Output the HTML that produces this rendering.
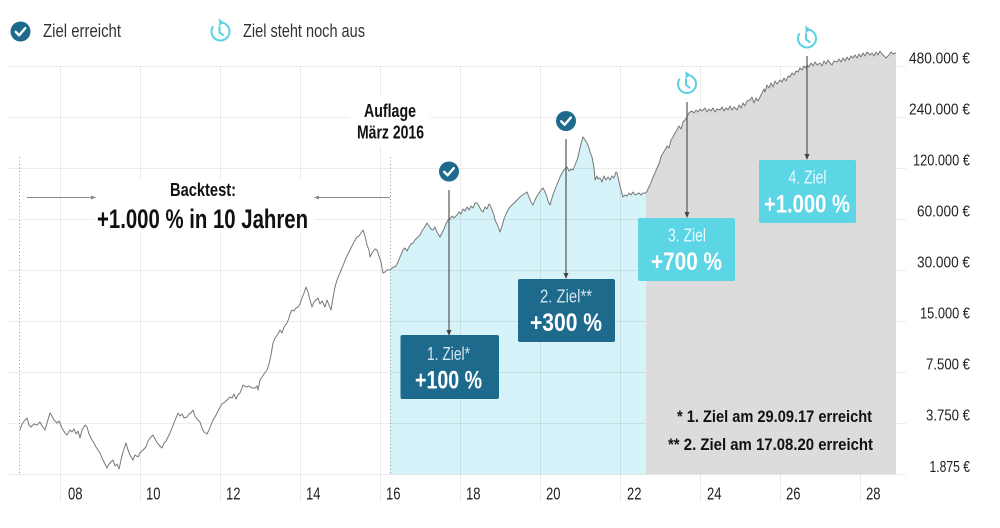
<!DOCTYPE html>
<html><head><meta charset="utf-8">
<style>
html,body{margin:0;padding:0;background:#fff;}
svg{display:block;}
text{font-family:"Liberation Sans Narrow","Liberation Sans",sans-serif;}
.b{font-weight:bold;}
</style></head>
<body>
<svg width="1000" height="528" viewBox="0 0 1000 528" xmlns="http://www.w3.org/2000/svg">
<defs>
  <g id="chk">
    <circle cx="0" cy="0" r="10" fill="#1e6a8d"/>
    <path d="M-4.8,0.3 L-1.4,3.8 L4.8,-3.4" fill="none" stroke="#fff" stroke-width="2.4" stroke-linecap="round" stroke-linejoin="round"/>
  </g>
  <g id="tmr" fill="none" stroke="#5ad2e2" stroke-width="2" stroke-linecap="round">
    <path d="M0.5,-9 A9,9 0 1 1 -7.8,-4.5"/>
    <path d="M-1.5,-12 L2.5,-9 L-1.2,-6.2" fill="#5ad2e2" stroke-width="1.2"/>
    <path d="M-1,-4.5 L-1,1 L2.5,3.5"/>
  </g>
</defs>
<rect width="1000" height="528" fill="#fff"/>

<!-- cyan fill -->
<path fill="#d5f3f8" d="M390,474.5 L390,270 392,268 394,267 396,266 398,262 400,257 403,250 405,248 407,251 409,247 411,244 413,243 415,240 417,238 420,235 422,231 424,228 427,223 429,226 431,229 433,230 435,227 437,232 440,237 442,233 444,229 446,224 448,220 450,219 452,216 454,218 457,215 459,212 461,214 463,209 465,211 467,207 469,210 471,206 473,208 475,203 477,203 479,206 481,210 483,212 485,207 487,209 489,204 490,205 492,210 494,215 495,220 497,224 499,229 500,232 502,226 504,219 506,214 508,210 510,207 512,205 515,202 517,200 519,198 521,196 524,194 527,192 529,197 531,202 533,205 535,200 537,196 539,193 541,190 543,188 545,192 547,197 548,201 550,205 552,198 554,192 556,187 558,182 560,177 562,173 564,170 567,167 569,171 571,169 573,170 575,165 577,160 578,157 580,148 582,140 583,137 585,140 587,143 589,148 590,152 592,157 594,168 595,180 597,176 598,179 600,178 602,182 604,176 606,180 608,177 610,180 612,176 614,178 616,172 617,173 619,182 621,190 623,197 625,195 627,196 629,193 631,195 633,192 635,195 637,194 639,193 641,195 643,193 645,193 646,193 L646,474.5 Z"/>

<!-- gridlines -->
<g stroke="#000" stroke-opacity="0.075" stroke-width="1">
  <line x1="8" y1="66.5" x2="906" y2="66.5"/>
  <line x1="8" y1="117.5" x2="906" y2="117.5"/>
  <line x1="8" y1="168.5" x2="906" y2="168.5"/>
  <line x1="8" y1="219.5" x2="906" y2="219.5"/>
  <line x1="8" y1="270.5" x2="906" y2="270.5"/>
  <line x1="8" y1="321.5" x2="906" y2="321.5"/>
  <line x1="8" y1="372.5" x2="906" y2="372.5"/>
  <line x1="8" y1="423.5" x2="906" y2="423.5"/>
  <line x1="8" y1="474.5" x2="906" y2="474.5"/>
  <line x1="60.5" y1="66" x2="60.5" y2="502"/>
  <line x1="140.5" y1="66" x2="140.5" y2="502"/>
  <line x1="220.5" y1="66" x2="220.5" y2="502"/>
  <line x1="300.5" y1="66" x2="300.5" y2="502"/>
  <line x1="380.5" y1="66" x2="380.5" y2="502"/>
  <line x1="460.5" y1="66" x2="460.5" y2="502"/>
  <line x1="540.5" y1="66" x2="540.5" y2="502"/>
  <line x1="620.5" y1="66" x2="620.5" y2="502"/>
  <line x1="700.5" y1="66" x2="700.5" y2="502"/>
  <line x1="780.5" y1="66" x2="780.5" y2="502"/>
  <line x1="860.5" y1="66" x2="860.5" y2="502"/>
</g>

<!-- white backgrounds behind annotation text -->
<rect x="95" y="178" width="220" height="54" fill="#fff"/>
<rect x="350" y="96" width="80" height="50" fill="#fff"/>

<!-- gray fill -->
<path fill="#dcdcdc" d="M646,474.5 L646,193 648,189 650,185 652,180 653,177 655,173 657,168 659,164 661,157 663,153 665,150 667,146 669,148 671,140 673,137 675,133 677,130 679,126 681,129 683,122 685,120 687,117 689,113 690,112 692,111 694,113 696,110 698,112 700,109 702,111 703,110 705,108 707,112 709,109 711,111 713,108 715,112 717,109 720,110 722,107 724,111 726,108 728,110 730,106 732,110 734,107 737,110 739,105 741,108 743,103 745,106 747,101 750,100 752,97 754,103 756,98 758,101 760,97 762,93 764,89 765,92 767,85 769,88 771,83 773,87 775,81 777,84 780,80 782,82 784,78 786,81 788,76 790,77 792,73 794,75 796,71 798,72 800,68 802,70 804,66 806,68 807,65 809,67 811,63 813,66 815,62 817,65 820,63 822,66 824,61 826,64 828,60 830,63 832,65 834,61 837,62 839,59 841,62 843,58 845,61 847,57 849,60 851,56 853,58 855,55 857,58 859,54 861,57 863,53 865,56 867,52 870,55 872,53 874,56 876,52 878,55 880,51 882,54 884,56 886,58 887,57 889,55 891,52 893,54 895,53 896,53 L896,474.5 Z"/>

<!-- dotted verticals -->
<g stroke="#999" stroke-width="1" stroke-dasharray="1,2.5">
  <line x1="19.5" y1="157" x2="19.5" y2="474"/>
  <line x1="390.5" y1="157" x2="390.5" y2="474"/>
</g>

<!-- price curve -->
<polyline fill="none" stroke="#777" stroke-width="1" stroke-linejoin="round" points="20,430 22,424 25,420 27,418 29,425 31,427 34,424 37,425 40,422 42,426 45,430 47,423 50,413 52,416 54,420 57,423 59,421 62,428 65,433 67,435 70,430 72,432 74,429 76,434 78,431 80,438 82,430 85,425 87,427 89,434 92,440 94,443 96,447 98,450 100,453 102,458 104,462 107,468 109,464 111,462 113,460 115,466 117,464 119,469 121,460 123,452 126,443 128,450 130,455 133,460 135,455 138,457 140,453 143,450 146,447 148,441 150,438 153,435 155,439 158,444 160,446 162,448 164,443 166,441 168,437 170,433 172,428 174,423 176,418 178,413 180,416 182,414 184,418 187,417 189,414 191,413 193,410 195,416 197,419 200,422 202,428 204,432 207,434 209,430 211,425 213,420 215,417 218,411 220,407 222,404 225,402 228,399 230,397 232,398 234,394 236,399 238,395 240,393 242,388 243,385 246,387 249,386 252,388 255,388 257,386 258,390 260,380 262,377 264,374 267,370 269,364 271,355 273,343 275,338 278,334 280,330 282,333 284,327 287,323 289,318 290,314 292,310 294,311 296,308 298,307 300,304 302,298 304,293 306,287 308,292 310,300 312,307 314,302 316,300 318,298 320,304 322,301 324,305 325,307 327,300 329,305 331,310 333,298 335,287 337,280 339,275 342,268 344,263 346,258 348,254 350,250 352,246 354,242 357,237 359,236 361,233 363,230 365,236 367,245 369,250 370,257 372,253 375,249 377,250 379,256 381,262 383,273 385,272 387,270 390,270 392,268 394,267 396,266 398,262 400,257 403,250 405,248 407,251 409,247 411,244 413,243 415,240 417,238 420,235 422,231 424,228 427,223 429,226 431,229 433,230 435,227 437,232 440,237 442,233 444,229 446,224 448,220 450,219 452,216 454,218 457,215 459,212 461,214 463,209 465,211 467,207 469,210 471,206 473,208 475,203 477,203 479,206 481,210 483,212 485,207 487,209 489,204 490,205 492,210 494,215 495,220 497,224 499,229 500,232 502,226 504,219 506,214 508,210 510,207 512,205 515,202 517,200 519,198 521,196 524,194 527,192 529,197 531,202 533,205 535,200 537,196 539,193 541,190 543,188 545,192 547,197 548,201 550,205 552,198 554,192 556,187 558,182 560,177 562,173 564,170 567,167 569,171 571,169 573,170 575,165 577,160 578,157 580,148 582,140 583,137 585,140 587,143 589,148 590,152 592,157 594,168 595,180 597,176 598,179 600,178 602,182 604,176 606,180 608,177 610,180 612,176 614,178 616,172 617,173 619,182 621,190 623,197 625,195 627,196 629,193 631,195 633,192 635,195 637,194 639,193 641,195 643,193 645,193 646,193 648,189 650,185 652,180 653,177 655,173 657,168 659,164 661,157 663,153 665,150 667,146 669,148 671,140 673,137 675,133 677,130 679,126 681,129 683,122 685,120 687,117 689,113 690,112 692,111 694,113 696,110 698,112 700,109 702,111 703,110 705,108 707,112 709,109 711,111 713,108 715,112 717,109 720,110 722,107 724,111 726,108 728,110 730,106 732,110 734,107 737,110 739,105 741,108 743,103 745,106 747,101 750,100 752,97 754,103 756,98 758,101 760,97 762,93 764,89 765,92 767,85 769,88 771,83 773,87 775,81 777,84 780,80 782,82 784,78 786,81 788,76 790,77 792,73 794,75 796,71 798,72 800,68 802,70 804,66 806,68 807,65 809,67 811,63 813,66 815,62 817,65 820,63 822,66 824,61 826,64 828,60 830,63 832,65 834,61 837,62 839,59 841,62 843,58 845,61 847,57 849,60 851,56 853,58 855,55 857,58 859,54 861,57 863,53 865,56 867,52 870,55 872,53 874,56 876,52 878,55 880,51 882,54 884,56 886,58 887,57 889,55 891,52 893,54 895,53 896,53"/>

<!-- backtest arrows -->
<g stroke="#888" stroke-width="1" fill="#888">
  <line x1="27" y1="197.5" x2="93" y2="197.5"/>
  <path d="M96,197.5 L91,195.5 L91,199.5 Z" stroke="none"/>
  <line x1="390" y1="197.5" x2="317" y2="197.5"/>
  <path d="M314,197.5 L319,195.5 L319,199.5 Z" stroke="none"/>
</g>

<!-- vertical goal arrows -->
<g stroke="#555" stroke-width="1.2" fill="#444">
  <line x1="449" y1="190" x2="449" y2="331"/>
  <path d="M449,336 L446.5,330 L451.5,330 Z" stroke="none"/>
  <line x1="566" y1="139" x2="566" y2="274"/>
  <path d="M566,279 L563.5,273 L568.5,273 Z" stroke="none"/>
  <line x1="687" y1="102" x2="687" y2="213"/>
  <path d="M687,218 L684.5,212 L689.5,212 Z" stroke="none"/>
  <line x1="807" y1="56" x2="807" y2="155"/>
  <path d="M807,160 L804.5,154 L809.5,154 Z" stroke="none"/>
</g>

<!-- icons -->
<use href="#chk" x="20.5" y="31.5"/>
<use href="#tmr" x="220.5" y="31.5"/>
<use href="#chk" x="449" y="171.5"/>
<use href="#chk" x="566" y="121"/>
<use href="#tmr" x="687" y="84"/>
<use href="#tmr" x="807" y="38.5"/>

<!-- legend -->
<text x="43" y="37" font-size="18" fill="#333" textLength="78" lengthAdjust="spacingAndGlyphs">Ziel erreicht</text>
<text x="243" y="37" font-size="18" fill="#333" textLength="122" lengthAdjust="spacingAndGlyphs">Ziel steht noch aus</text>

<!-- annotations -->
<text class="b" x="170" y="196" font-size="18" fill="#111" textLength="66" lengthAdjust="spacingAndGlyphs">Backtest:</text>
<text class="b" x="97" y="228" font-size="26.5" fill="#111" textLength="211" lengthAdjust="spacingAndGlyphs">+1.000 % in 10 Jahren</text>
<text class="b" x="364" y="117" font-size="18" fill="#111" textLength="52" lengthAdjust="spacingAndGlyphs">Auflage</text>
<text class="b" x="357" y="138.5" font-size="18" fill="#111" textLength="67" lengthAdjust="spacingAndGlyphs">März 2016</text>

<!-- boxes -->
<rect x="400.5" y="335" width="98.5" height="64" rx="2" fill="#1e6a8d"/>
<text x="427" y="360" font-size="18" fill="#d4e6ef" textLength="43" lengthAdjust="spacingAndGlyphs">1. Ziel*</text>
<text class="b" x="415" y="388.5" font-size="25" fill="#fff" textLength="67" lengthAdjust="spacingAndGlyphs">+100 %</text>

<rect x="518" y="279" width="97" height="63" rx="2" fill="#1e6a8d"/>
<text x="540" y="302.5" font-size="18" fill="#d4e6ef" textLength="52" lengthAdjust="spacingAndGlyphs">2. Ziel**</text>
<text class="b" x="530" y="331" font-size="25" fill="#fff" textLength="72" lengthAdjust="spacingAndGlyphs">+300 %</text>

<rect x="638" y="218" width="97" height="63" rx="2" fill="#5cd5e5"/>
<text x="668" y="241.5" font-size="18" fill="#eafafd" textLength="38" lengthAdjust="spacingAndGlyphs">3. Ziel</text>
<text class="b" x="651" y="270" font-size="25" fill="#fff" textLength="71" lengthAdjust="spacingAndGlyphs">+700 %</text>

<rect x="759" y="160" width="97" height="63" rx="2" fill="#5cd5e5"/>
<text x="788.5" y="183.5" font-size="18" fill="#eafafd" textLength="38" lengthAdjust="spacingAndGlyphs">4. Ziel</text>
<text class="b" x="764" y="212.5" font-size="25" fill="#fff" textLength="86" lengthAdjust="spacingAndGlyphs">+1.000 %</text>

<!-- footnotes -->
<text class="b" x="677" y="422" font-size="17" fill="#111" textLength="195" lengthAdjust="spacingAndGlyphs">* 1. Ziel am 29.09.17 erreicht</text>
<text class="b" x="668" y="450" font-size="17" fill="#111" textLength="205" lengthAdjust="spacingAndGlyphs">** 2. Ziel am 17.08.20 erreicht</text>

<!-- y axis labels -->
<g font-size="16" fill="#222">
  <text x="909" y="63.5" textLength="61" lengthAdjust="spacingAndGlyphs">480.000 €</text>
  <text x="909" y="114.5" textLength="61" lengthAdjust="spacingAndGlyphs">240.000 €</text>
  <text x="913" y="165.5" textLength="57" lengthAdjust="spacingAndGlyphs">120.000 €</text>
  <text x="917" y="216.5" textLength="53" lengthAdjust="spacingAndGlyphs">60.000 €</text>
  <text x="917" y="267.5" textLength="53" lengthAdjust="spacingAndGlyphs">30.000 €</text>
  <text x="920" y="318.5" textLength="50" lengthAdjust="spacingAndGlyphs">15.000 €</text>
  <text x="926" y="369.5" textLength="44" lengthAdjust="spacingAndGlyphs">7.500 €</text>
  <text x="926" y="420.5" textLength="44" lengthAdjust="spacingAndGlyphs">3.750 €</text>
  <text x="929.5" y="472" textLength="40.5" lengthAdjust="spacingAndGlyphs">1.875 €</text>
</g>

<!-- x axis labels -->
<g font-size="17.5" fill="#222">
  <text x="68" y="499.5" textLength="14.5" lengthAdjust="spacingAndGlyphs">08</text>
  <text x="146" y="499.5" textLength="14.5" lengthAdjust="spacingAndGlyphs">10</text>
  <text x="226" y="499.5" textLength="14.5" lengthAdjust="spacingAndGlyphs">12</text>
  <text x="306" y="499.5" textLength="14.5" lengthAdjust="spacingAndGlyphs">14</text>
  <text x="386" y="499.5" textLength="14.5" lengthAdjust="spacingAndGlyphs">16</text>
  <text x="466" y="499.5" textLength="14.5" lengthAdjust="spacingAndGlyphs">18</text>
  <text x="546" y="499.5" textLength="14.5" lengthAdjust="spacingAndGlyphs">20</text>
  <text x="627" y="499.5" textLength="14.5" lengthAdjust="spacingAndGlyphs">22</text>
  <text x="707" y="499.5" textLength="14.5" lengthAdjust="spacingAndGlyphs">24</text>
  <text x="786" y="499.5" textLength="14.5" lengthAdjust="spacingAndGlyphs">26</text>
  <text x="866" y="499.5" textLength="14.5" lengthAdjust="spacingAndGlyphs">28</text>
</g>
</svg>
</body></html>
